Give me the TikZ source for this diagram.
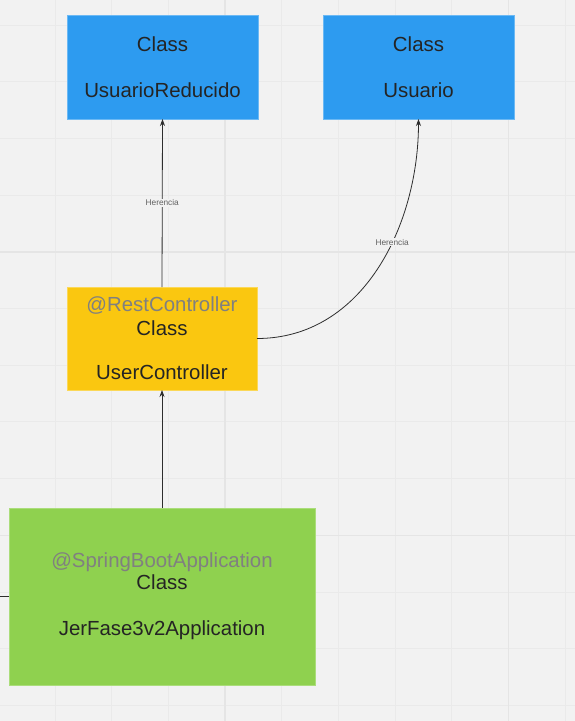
\documentclass[tikz,border=0pt]{standalone}
\usepackage{fontspec}
\setmainfont{Liberation Sans}
\usetikzlibrary{arrows.meta, positioning}
\definecolor{canvasbg}{RGB}{242, 242, 242}
\definecolor{gridline}{RGB}{234, 234, 234}
\definecolor{gridmajor}{RGB}{229, 229, 229}
\definecolor{classblue}{RGB}{45, 155, 240}
\definecolor{classyellow}{RGB}{250, 199, 16}
\definecolor{classgreen}{RGB}{143, 209, 79}
\definecolor{textdark}{RGB}{36, 36, 36}
\definecolor{annotgray}{RGB}{128, 128, 128}
\definecolor{linkgray}{RGB}{45, 45, 45}

\begin{document}
\begin{tikzpicture}[x=1pt, y=-1pt, >={Stealth[length=7pt, width=5pt]},
    classbox/.style={minimum width=191pt, minimum height=104pt, inner sep=0pt, outer sep=0pt, align=center, text=textdark, font=\fontsize{20.4}{23}\selectfont, line width=1pt},
    link/.style={->, draw=linkgray, line width=0.8pt},
    linklabel/.style={fill=canvasbg, text=linkgray!75, font=\fontsize{8.3}{10}\selectfont, inner sep=1pt}]
      \fill[canvasbg] (0,0) rectangle (575,721);
      \useasboundingbox (0,0) rectangle (575,721);
      \foreach \k in {0,...,9} \draw[gridline, line width=1pt] ({55+56.7*\k},0) -- ({55+56.7*\k},721);
      \foreach \k in {0,...,12} \draw[gridline, line width=1pt] (0,{25+56.7*\k}) -- (575,{25+56.7*\k});
      \foreach \gx in {225.1, 508.6} \draw[gridmajor, line width=1.4pt] (\gx,0) -- (\gx,721);
      \foreach \gy in {251.8, 535.3} \draw[gridmajor, line width=1.4pt] (0,\gy) -- (575,\gy);

      \node[classbox, fill=classblue, draw=classblue!70!white] (reduced) at (162.5,67) {Class\\[23pt]UsuarioReducido};
      \node[classbox, fill=classblue, draw=classblue!70!white] (usuario) at (418.5,67) {Class\\[23pt]Usuario};
      \node[classbox, fill=classyellow, draw=classyellow!70!white, minimum width=190pt, minimum height=103pt] (ctrl) at (162,338.5) {\textcolor{annotgray}{@RestController}\\[1pt]Class\\[21pt]UserController};
      \node[classbox, fill=classgreen, draw=classgreen!75!white, minimum width=306pt, minimum height=177pt] (app) at (162,596.5) {\textcolor{annotgray}{@SpringBootApplication}\\[-1pt]Class\\[23pt]JerFase3v2Application};

      \draw[link] (ctrl.north) -- node[linklabel] {Herencia} (reduced.south);
      \draw[link] (ctrl.east) .. controls +(106,0) and +(0,106) .. node[linklabel, pos=0.6] {Herencia} (usuario.south);
      \draw[link] (app.north) -- (ctrl.south);
      \coordinate (offleft) at (0,596.5);
      \draw[draw=linkgray, line width=0.8pt] (offleft) -- (app.west);
    \end{tikzpicture}
\end{document}
